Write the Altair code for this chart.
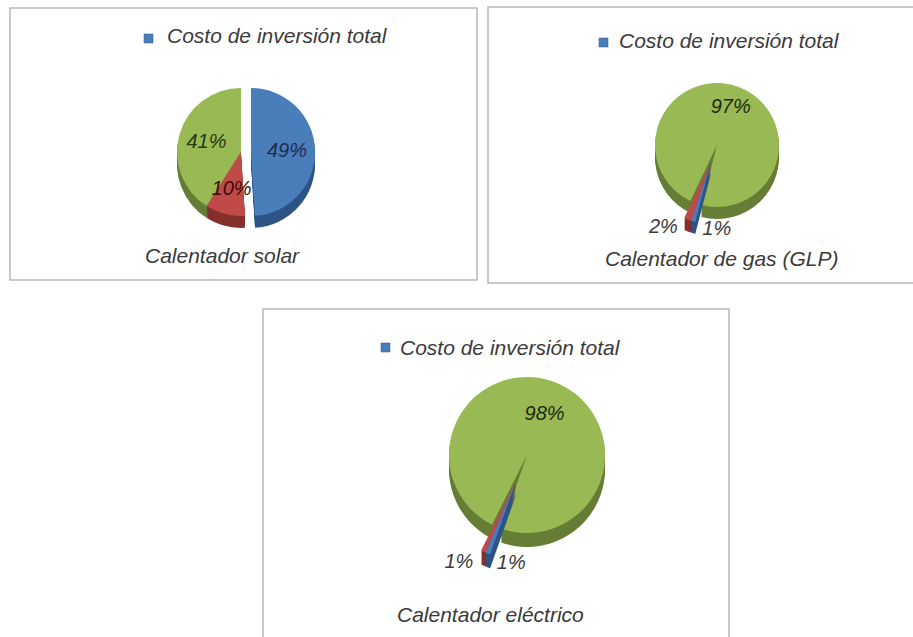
import math
import altair as alt
import pandas as pd

# ---------------- data ----------------
panel_titles = ["Calentador solar", "Calentador de gas (GLP)", "Calentador eléctrico"]
legend_label = "Costo de inversión total"
slice_names = ["Costo de inversión total", "Costo B", "Costo C"]
solar_pct = [49, 10, 41]
gas_pct = [1, 2, 97]
electric_pct = [1, 1, 98]

rows = []
for title, vals in zip(panel_titles, [solar_pct, gas_pct, electric_pct]):
    for k, (name, v) in enumerate(zip(slice_names, vals)):
        rows.append({"panel": title, "slice": name, "order": k, "pct": v, "label": f"{v}%"})
df = pd.DataFrame(rows)

# ---------------- styles ----------------
FONT = "Liberation Sans"
TEXT_COLOR = "#3a3a3a"
TOP = {slice_names[0]: "#4A7EBB", slice_names[1]: "#BE4B48", slice_names[2]: "#98B954"}
SIDE = {slice_names[0]: "#2E5486", slice_names[1]: "#85302D", slice_names[2]: "#667D36"}
ONE = alt.Data(values=[{"k": 0}])


def base(panel):
    return (
        alt.Chart(df)
        .transform_filter(alt.datum.panel == panel)
        .transform_window(cum="sum(pct)", sort=[alt.SortField("order")], frame=[None, 0])
        .transform_calculate(start="datum.cum - datum.pct", mid="datum.cum - datum.pct / 2")
    )


def theta_scale(rot_deg):
    r0 = math.radians(rot_deg)
    return alt.Scale(domain=[0, 100], range=[r0, r0 + 2 * math.pi])


def group_layers(panel, names, cx, cy, r, depth, rot, off=(0, 0)):
    sc = theta_scale(rot)
    enc = dict(
        x=alt.value(cx + off[0]),
        y=alt.value(cy + off[1]),
        theta=alt.Theta("start:Q", scale=sc, stack=False),
        theta2=alt.Theta2("cum:Q"),
    )
    out = []
    for name in names:
        b = base(panel).transform_filter(alt.datum.slice == name)
        for k in range(depth, 0, -2):
            out.append(b.mark_arc(radius=r, yOffset=k, color=SIDE[name]).encode(**enc))
    for name in names:
        b = base(panel).transform_filter(alt.datum.slice == name)
        out.append(b.mark_arc(radius=r, color=TOP[name]).encode(**enc))
    return out


def label_layer(panel, name, cx, cy, R, rot, color, off=(0, 0), align="center", dx=0, dy=0, size=20):
    sc = theta_scale(rot)
    b = base(panel).transform_filter(alt.datum.slice == name)
    return b.mark_text(
        radius=R, font=FONT, fontSize=size, fontStyle="italic", color=color,
        align=align, baseline="middle", dx=dx, dy=dy,
    ).encode(
        x=alt.value(cx + off[0]),
        y=alt.value(cy + off[1]),
        theta=alt.Theta("mid:Q", scale=sc, stack=False),
        text="label:N",
    )


def box(x1, y1, x2, y2):
    return alt.Chart(ONE).mark_rect(fill="white", stroke="#b8b8b8", strokeWidth=1.5).encode(
        x=alt.value(x1), x2=alt.value(x2), y=alt.value(y1), y2=alt.value(y2)
    )


def legend(sx, sy, tx, ty):
    sq = alt.Chart(ONE).mark_rect(color=TOP[slice_names[0]], stroke="#2E5486", strokeWidth=0.5).encode(
        x=alt.value(sx), x2=alt.value(sx + 9), y=alt.value(sy), y2=alt.value(sy + 9)
    )
    tx_ = alt.Chart(ONE).mark_text(
        font=FONT, fontSize=21, fontStyle="italic", color=TEXT_COLOR, align="left", baseline="alphabetic"
    ).encode(x=alt.value(tx), y=alt.value(ty), text=alt.value(legend_label))
    return [sq, tx_]


def caption(text, x, y):
    return alt.Chart(ONE).mark_text(
        font=FONT, fontSize=21, fontStyle="italic", color=TEXT_COLOR, align="left", baseline="alphabetic"
    ).encode(x=alt.value(x), y=alt.value(y), text=alt.value(text))


def explode(d, ang):
    a = math.radians(ang)
    return (d * math.sin(a), -d * math.cos(a))


layers = []

# ---------- panel 1: solar ----------
p = panel_titles[0]
cx, cy, r, depth, rot = 241, 152, 64, 12, 0
layers.append(box(10, 8, 477, 280))
layers += legend(144, 34, 167, 43)
layers += group_layers(p, [slice_names[2], slice_names[1]], cx, cy, r, depth, rot)
off_blue = (10, 0)
layers += group_layers(p, [slice_names[0]], cx, cy, r, depth, rot, off_blue)
layers.append(label_layer(p, slice_names[2], cx, cy, 36, rot, "#2b3a12"))
layers.append(label_layer(p, slice_names[1], cx, cy, 38, rot, "#3d0c0c"))
layers.append(label_layer(p, slice_names[0], cx, cy, 36, rot, "#1f2d50", off_blue))
layers.append(caption(p, 145, 263))

# ---------- panel 2: gas ----------
p = panel_titles[1]
cx, cy, r, depth, rot = 717, 145, 62, 12, 194.6
off = explode(18, 200)
layers.append(box(488, 7, 916, 283))
layers += legend(599, 38, 619, 48)
layers += group_layers(p, [slice_names[2]], cx, cy, r, depth, rot)
layers += group_layers(p, [slice_names[1], slice_names[0]], cx, cy, r, depth, rot, off)
layers.append(label_layer(p, slice_names[2], cx, cy, 40, rot, "#1e2a10"))
layers.append(label_layer(p, slice_names[1], cx, cy, r, rot, TEXT_COLOR, off, align="right", dx=-10, dy=8))
layers.append(label_layer(p, slice_names[0], cx, cy, r, rot, TEXT_COLOR, off, align="left", dx=9, dy=8))
layers.append(caption(p, 605, 266))

# ---------- panel 3: electric ----------
p = panel_titles[2]
cx, cy, r, depth, rot = 527, 455, 78, 14, 199.4
off = explode(28, 203)
layers.append(box(263, 309, 729, 640))
layers += legend(381, 343, 400, 355)
layers += group_layers(p, [slice_names[2]], cx, cy, r, depth, rot)
layers += group_layers(p, [slice_names[1], slice_names[0]], cx, cy, r, depth, rot, off)
layers.append(label_layer(p, slice_names[2], cx, cy, 45, rot, "#1e2a10"))
layers.append(label_layer(p, slice_names[1], cx, cy, r, rot, TEXT_COLOR, off, align="right", dx=-10, dy=10))
layers.append(label_layer(p, slice_names[0], cx, cy, r, rot, TEXT_COLOR, off, align="left", dx=9, dy=10))
layers.append(caption(p, 397, 622))

chart = (
    alt.layer(*layers)
    .resolve_scale(theta="independent")
    .properties(width=913, height=637, padding=0, autosize=alt.AutoSizeParams(type="none"), background="white")
    .configure_view(stroke=None)
)

chart.save("out.html", embed_options={"renderer": "svg", "actions": False})
